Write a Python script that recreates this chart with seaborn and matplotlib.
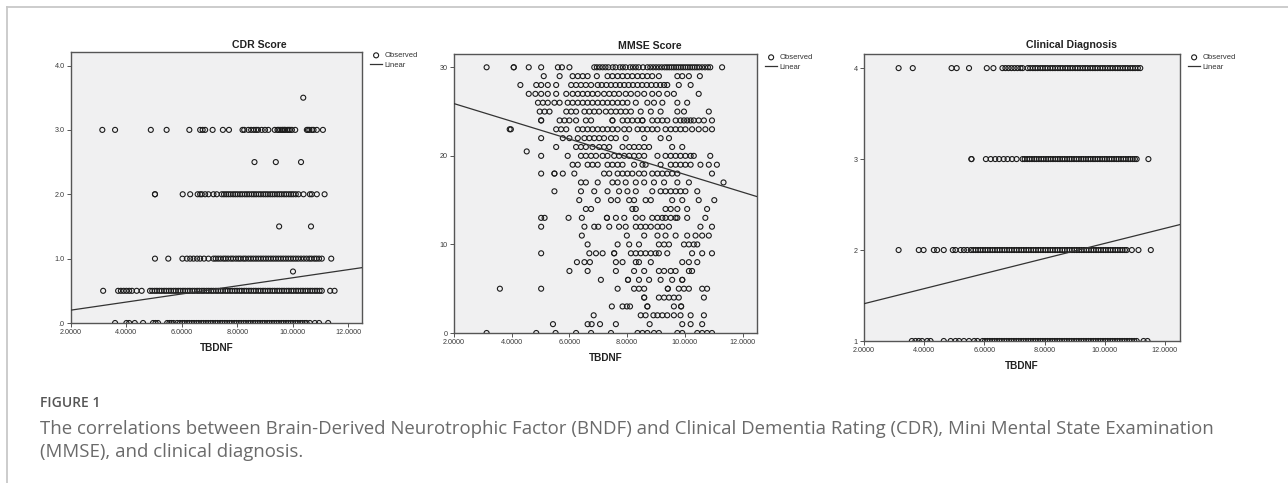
import matplotlib
matplotlib.use("Agg")
import matplotlib.pyplot as plt
from matplotlib.lines import Line2D
from matplotlib.ticker import FormatStrFormatter
import seaborn as sns
import pandas as pd

# ---------------- data ----------------
# CDR Score panel: TBDNF values observed at each CDR level
cdr_0_0 = [3.59, 4.0, 4.1, 4.3, 4.6, 4.96, 5.05, 5.14, 5.47, 5.55, 5.62, 5.7, 5.83,
           5.93, 6.02, 6.1, 6.19, 6.27, 6.36, 6.44, 6.53, 6.61, 6.7, 6.78, 6.87, 6.95,
           7.04, 7.12, 7.21, 7.29, 7.38, 7.46, 7.55, 7.63, 7.72, 7.8, 7.89, 7.97, 8.06,
           8.14, 8.23, 8.31, 8.4, 8.48, 8.57, 8.65, 8.74, 8.82, 8.91, 8.99, 9.08, 9.16,
           9.25, 9.33, 9.42, 9.5, 9.59, 9.67, 9.76, 9.84, 9.93, 10.01, 10.1, 10.18,
           10.27, 10.35, 10.44, 10.5, 10.62, 10.8, 10.95, 11.28]
cdr_0_5 = [3.16, 3.7, 3.8, 3.9, 4.0, 4.1, 4.2, 4.37, 4.55,
           4.85, 4.93, 5.02, 5.1, 5.19, 5.27, 5.36, 5.44, 5.53, 5.61, 5.7, 5.78, 5.87,
           5.95, 6.04, 6.12, 6.21, 6.29, 6.38, 6.46, 6.55, 6.63, 6.72, 6.8, 6.89, 6.97,
           7.06, 7.14, 7.23, 7.31, 7.4, 7.48, 7.57, 7.65, 7.74, 7.82, 7.91, 7.99, 8.08,
           8.16, 8.25, 8.33, 8.42, 8.5, 8.59, 8.67, 8.76, 8.84, 8.93, 9.01, 9.1, 9.18,
           9.27, 9.35, 9.44, 9.52, 9.61, 9.69, 9.78, 9.86, 9.95, 10.03, 10.12, 10.2,
           10.29, 10.37, 10.46, 10.54, 10.63, 10.71, 10.8, 10.88, 10.97, 11.05, 11.35, 11.51]
cdr_0_8 = [10.01]
cdr_1_0 = [5.03, 5.51, 6.02, 6.18, 6.3, 6.42, 6.55, 6.66, 6.8, 6.96,
           7.14, 7.22, 7.31, 7.4, 7.5, 7.58, 7.67, 7.77, 7.85, 7.95, 8.04, 8.12, 8.22,
           8.3, 8.4, 8.49, 8.58, 8.67, 8.76, 8.85, 8.94, 9.03, 9.12, 9.21, 9.3, 9.39,
           9.48, 9.57, 9.66, 9.75, 9.84, 9.93, 10.02, 10.11, 10.2, 10.3, 10.4, 10.5,
           10.6, 10.68, 10.78, 10.86, 10.95, 11.05, 11.39]
cdr_1_5 = [9.51, 10.66]
cdr_2_0 = [5.03, 5.03, 6.03, 6.30, 6.57, 6.66, 6.72, 6.84, 6.96, 7.14, 7.26,
           7.44, 7.52, 7.6, 7.68, 7.76, 7.85, 7.93, 8.01, 8.1, 8.18, 8.27, 8.35, 8.43,
           8.52, 8.6, 8.68, 8.77, 8.85, 8.94, 9.02, 9.1, 9.19, 9.27, 9.35, 9.44, 9.52,
           9.6, 9.69, 9.77, 9.86, 9.94, 10.02, 10.11, 10.21, 10.39, 10.62, 10.69, 10.87, 11.15]
cdr_2_5 = [8.62, 9.39, 10.30]
cdr_3_0 = [3.13, 3.59, 4.88, 5.45, 6.27, 6.66, 6.75, 6.84, 7.11, 7.48, 7.70, 8.19,
           8.25, 8.40, 8.5, 8.6, 8.68, 8.75, 8.88, 9.00, 9.12, 9.35, 9.45, 9.49, 9.55,
           9.61, 9.65, 9.7, 9.73, 9.8, 9.85, 9.9, 9.97, 10.09, 10.51, 10.55, 10.6,
           10.69, 10.75, 10.87, 11.09]
cdr_3_5 = [10.38]
cdr_levels = [0.0, 0.5, 0.8, 1.0, 1.5, 2.0, 2.5, 3.0, 3.5]
cdr_rows = [cdr_0_0, cdr_0_5, cdr_0_8, cdr_1_0, cdr_1_5, cdr_2_0, cdr_2_5, cdr_3_0, cdr_3_5]
cdr_linear_x = [2.0, 12.5]
cdr_linear_y = [0.20, 0.86]

# MMSE Score panel: TBDNF values observed at each MMSE score
mmse_30 = [3.13, 4.07, 4.07, 4.59, 5.02, 5.60, 5.74, 6.0, 6.86, 6.95, 7.05, 7.15, 7.25,
           7.35, 7.5, 7.6, 7.75, 7.85, 7.95, 8.1, 8.2, 8.3, 8.4, 8.55, 8.7, 8.8, 8.9,
           9.0, 9.1, 9.2, 9.3, 9.38, 9.46, 9.54, 9.62, 9.7, 9.78, 9.86, 9.94, 10.02,
           10.1, 10.18, 10.26, 10.34, 10.42, 10.5, 10.6, 10.7, 10.8, 10.88, 11.29]
mmse_29 = [5.11, 5.66, 6.11, 6.29, 6.46, 6.63, 6.95, 7.32, 7.49, 7.67, 7.84, 8.01, 8.18,
           8.36, 8.53, 8.70, 8.87, 9.1, 9.74, 9.91, 10.14, 10.52]
mmse_28 = [4.30, 4.85, 5.02, 5.25, 5.54, 6.06, 6.23, 6.40, 6.57, 6.75, 6.98, 7.12, 7.28,
           7.44, 7.6, 7.75, 7.9, 8.05, 8.2, 8.36, 8.52, 8.68, 8.84, 9.0, 9.15, 9.28,
           9.39, 9.79, 10.2]
mmse_27 = [4.59, 4.82, 5.02, 5.25, 5.54, 5.89, 6.11, 6.29, 6.46, 6.63, 6.8, 6.98, 7.2,
           7.38, 7.55, 7.72, 7.95, 8.13, 8.36, 8.59, 8.87, 9.1, 9.39, 9.62, 10.48]
mmse_26 = [4.91, 5.08, 5.25, 5.48, 5.66, 5.94, 6.11, 6.29, 6.46, 6.63, 6.8, 6.98, 7.15,
           7.32, 7.49, 7.67, 7.84, 8.01, 8.30, 8.70, 8.93, 9.22, 9.74, 10.08]
mmse_25 = [4.97, 5.14, 5.31, 5.89, 6.06, 6.23, 6.52, 6.69, 6.86, 7.03, 7.26, 7.44, 7.61,
           7.78, 7.95, 8.13, 8.47, 8.82, 9.16, 9.74, 9.97, 10.83]
mmse_24 = [5.02, 5.02, 5.66, 5.83, 6.0, 6.23, 6.57, 6.75, 7.49, 7.49, 7.84, 8.01, 8.18,
           8.36, 8.53, 8.53, 8.87, 9.05, 9.22, 9.39, 9.68, 9.85, 9.97, 10.08, 10.2,
           10.31, 10.48, 10.66, 10.94]
mmse_23 = [3.93, 3.97, 5.54, 5.71, 5.89, 6.29, 6.46, 6.63, 6.8, 6.98, 7.15, 7.32, 7.49,
           7.67, 7.9, 8.07, 8.36, 8.53, 8.70, 8.87, 9.05, 9.33, 9.51, 9.68, 9.85, 10.02,
           10.25, 10.48, 10.71, 10.94]
mmse_22 = [5.02, 5.77, 6.0, 6.29, 6.52, 6.69, 6.86, 7.03, 7.2, 7.44, 7.61, 7.95, 8.59,
           9.16, 9.45]
mmse_21 = [5.54, 6.23, 6.40, 6.57, 6.8, 7.03, 7.2, 7.38, 7.84, 8.07, 8.24, 8.41, 8.59,
           8.76, 9.56, 9.91]
mmse_20_5 = [4.52]
mmse_20 = [5.02, 5.94, 6.40, 6.57, 6.75, 6.92, 7.15, 7.32, 7.55, 7.72, 7.9, 8.07, 8.24,
           8.41, 8.59, 9.05, 9.33, 9.51, 9.68, 9.85, 10.02, 10.2, 10.31, 10.88]
mmse_19 = [6.11, 6.29, 6.63, 6.8, 6.98, 7.32, 7.49, 7.67, 7.84, 8.24, 8.53, 8.64, 9.16,
           9.51, 9.68, 9.85, 10.02, 10.2, 10.54, 10.83, 11.11]
mmse_18 = [5.02, 5.48, 5.48, 5.77, 6.17, 7.2, 7.38, 7.67, 7.84, 8.01, 8.18, 8.41, 8.59,
           8.87, 9.05, 9.22, 9.39, 9.56, 9.74, 10.94]
mmse_17 = [6.40, 6.57, 6.98, 7.49, 7.67, 7.95, 8.30, 8.59, 8.93, 9.28, 9.74, 10.14, 11.34]
mmse_16 = [5.48, 6.40, 6.86, 7.32, 7.72, 8.01, 8.30, 8.87, 9.16, 9.33, 9.51, 9.68, 9.85,
           10.02, 10.43]
mmse_15 = [6.34, 6.98, 7.44, 7.67, 8.07, 8.24, 8.64, 8.82, 9.56, 9.91, 10.48, 11.02]
mmse_14 = [6.57, 6.75, 8.18, 8.30, 9.33, 9.51, 9.74, 10.08, 10.77]
mmse_13 = [5.02, 5.14, 5.97, 6.43, 7.3, 7.3, 7.61, 7.9, 8.30, 8.53, 8.87, 9.05, 9.22,
           9.33, 9.51, 9.68, 9.74, 10.08, 10.71]
mmse_12 = [5.02, 6.52, 6.86, 7.0, 7.38, 7.72, 7.95, 8.30, 8.47, 8.64, 8.82, 9.05, 9.22,
           9.45, 10.54, 10.94]
mmse_11 = [6.43, 7.99, 8.59, 9.05, 9.33, 9.68, 10.08, 10.37, 10.6, 10.83]
mmse_10 = [6.63, 7.67, 8.07, 8.41, 9.1, 9.28, 9.45, 9.97, 10.14, 10.31, 10.43]
mmse_9 = [5.02, 6.69, 6.92, 7.15, 7.55, 7.55, 8.13, 8.30, 8.47, 8.64, 8.82, 8.99, 9.1,
          9.39, 10.25, 10.6, 10.94]
mmse_8 = [6.26, 6.52, 6.71, 7.61, 7.84, 8.30, 8.41, 8.82, 9.91, 10.14, 10.43]
mmse_7 = [6.0, 6.63, 7.61, 8.24, 8.59, 9.1, 9.28, 9.51, 9.68, 10.14, 10.25]
mmse_6 = [7.09, 8.03, 8.03, 8.41, 8.76, 9.16, 9.56, 9.91, 9.91]
mmse_5 = [3.59, 5.02, 7.67, 8.24, 8.41, 8.59, 9.41, 9.41, 9.79, 9.97, 10.14, 10.6, 10.77]
mmse_4 = [8.59, 8.59, 9.1, 9.28, 9.45, 9.62, 9.79, 10.66]
mmse_3 = [7.47, 7.84, 7.99, 8.10, 8.70, 8.70, 9.62, 9.87, 9.87]
mmse_2 = [6.84, 8.47, 8.64, 8.91, 9.05, 9.22, 9.39, 9.62, 9.85, 10.2, 10.66]
mmse_1 = [5.43, 6.63, 6.77, 7.06, 7.61, 8.78, 9.91, 10.2, 10.6]
mmse_0 = [3.13, 4.85, 5.52, 6.23, 6.75, 7.44, 8.36, 8.53, 8.70, 8.93, 9.1, 9.74, 9.91,
          10.43, 10.6, 10.77, 10.94]
mmse_levels = [30, 29, 28, 27, 26, 25, 24, 23, 22, 21, 20.5, 20, 19, 18, 17, 16, 15, 14,
               13, 12, 11, 10, 9, 8, 7, 6, 5, 4, 3, 2, 1, 0]
mmse_rows = [mmse_30, mmse_29, mmse_28, mmse_27, mmse_26, mmse_25, mmse_24, mmse_23,
             mmse_22, mmse_21, mmse_20_5, mmse_20, mmse_19, mmse_18, mmse_17, mmse_16,
             mmse_15, mmse_14, mmse_13, mmse_12, mmse_11, mmse_10, mmse_9, mmse_8,
             mmse_7, mmse_6, mmse_5, mmse_4, mmse_3, mmse_2, mmse_1, mmse_0]
mmse_linear_x = [2.0, 12.5]
mmse_linear_y = [25.9, 15.4]

# Clinical Diagnosis panel
dx_4 = [3.15, 3.62, 4.91, 5.08, 5.49, 6.08, 6.3, 6.6, 6.7, 6.8, 6.9, 7.0, 7.1, 7.2, 7.27,
        7.44, 7.52, 7.61, 7.69, 7.77, 7.86, 7.94, 8.02, 8.1, 8.19, 8.27, 8.35, 8.44,
        8.52, 8.6, 8.69, 8.77, 8.85, 8.93, 9.02, 9.1, 9.18, 9.27, 9.35, 9.43, 9.52, 9.6,
        9.68, 9.76, 9.85, 9.93, 10.01, 10.1, 10.18, 10.26, 10.35, 10.43, 10.51, 10.6,
        10.68, 10.76, 10.85, 10.93, 11.01, 11.1, 11.18]
dx_3 = [5.57, 5.57, 6.05, 6.21, 6.36, 6.49, 6.64, 6.77, 6.92, 7.07,
        7.27, 7.34, 7.42, 7.5, 7.58, 7.66, 7.73, 7.81, 7.89, 7.97, 8.05, 8.12, 8.2, 8.28,
        8.36, 8.44, 8.51, 8.59, 8.67, 8.75, 8.83, 8.9, 8.98, 9.06, 9.14, 9.22, 9.29,
        9.37, 9.45, 9.53, 9.61, 9.68, 9.76, 9.84, 9.92, 10.0, 10.07, 10.15, 10.23, 10.31,
        10.39, 10.46, 10.54, 10.62, 10.7, 10.78, 10.85, 10.93, 11.0, 11.06, 11.45]
dx_2 = [3.15, 3.82, 3.98, 4.32, 4.43, 4.65, 4.95, 5.04, 5.21, 5.32, 5.43,
        5.55, 5.63, 5.71, 5.79, 5.87, 5.95, 6.03, 6.11, 6.19, 6.27, 6.35, 6.43, 6.51,
        6.59, 6.67, 6.75, 6.83, 6.91, 6.99, 7.07, 7.15, 7.23, 7.31, 7.39, 7.47, 7.55,
        7.63, 7.71, 7.79, 7.87, 7.95, 8.03, 8.11, 8.19, 8.27, 8.35, 8.43, 8.51, 8.59,
        8.67, 8.75, 8.83, 8.91, 8.99, 9.07, 9.15, 9.23, 9.31, 9.39, 9.47, 9.55, 9.63,
        9.71, 9.79, 9.87, 9.95, 10.03, 10.11, 10.19, 10.27, 10.35, 10.43, 10.51, 10.59,
        10.67, 10.73, 10.9, 11.12, 11.53]
dx_1 = [3.59, 3.71, 3.82, 3.93, 4.1, 4.21, 4.65, 4.88, 5.04, 5.16, 5.32, 5.49, 5.66, 5.77,
        5.94, 6.02, 6.1, 6.18, 6.26, 6.34, 6.42, 6.5, 6.58, 6.66, 6.74, 6.82, 6.9, 6.98,
        7.06, 7.14, 7.22, 7.3, 7.38, 7.46, 7.54, 7.62, 7.7, 7.78, 7.86, 7.94, 8.02, 8.1,
        8.18, 8.26, 8.34, 8.42, 8.5, 8.58, 8.66, 8.74, 8.82, 8.9, 8.98, 9.06, 9.14, 9.22,
        9.3, 9.38, 9.46, 9.54, 9.62, 9.7, 9.78, 9.86, 9.94, 10.02, 10.1, 10.18, 10.26,
        10.34, 10.42, 10.5, 10.58, 10.66, 10.74, 10.82, 10.9, 10.98, 11.06, 11.29, 11.42]
dx_levels = [4, 3, 2, 1]
dx_rows = [dx_4, dx_3, dx_2, dx_1]
dx_linear_x = [2.0, 12.5]
dx_linear_y = [1.41, 2.28]

titles = ["CDR Score", "MMSE Score", "Clinical Diagnosis"]
x_label = "TBDNF"
x_ticks = [2, 4, 6, 8, 10, 12]
cdr_yticks = [0, 1, 2, 3, 4]
cdr_yticklabels = [".0", "1.0", "2.0", "3.0", "4.0"]
mmse_yticks = [0, 10, 20, 30]
dx_yticks = [1, 2, 3, 4]
legend_labels = ["Observed", "Linear"]
caption_head = "FIGURE 1"
caption_lines = ["The correlations between Brain-Derived Neurotrophic Factor (BNDF) and Clinical Dementia Rating (CDR), Mini Mental State Examination",
                 "(MMSE), and clinical diagnosis."]


def to_frame(levels, rows):
    xs, ys = [], []
    for lv, row in zip(levels, rows):
        xs.extend(row)
        ys.extend([lv] * len(row))
    return pd.DataFrame({"x": xs, "y": ys})


# ---------------- figure ----------------
W, H = 1288, 483
fig = plt.figure(figsize=(W / 100, H / 100), dpi=100)
fig.patch.set_facecolor("white")

# (left, top, right, bottom) in pixels
boxes = [(71, 52, 362, 323), (454, 54, 757, 333), (864, 54, 1180, 341)]
ylims = [(0, 4.21), (0, 31.5), (1, 4.155)]
title_pos = [(259, 45), (650, 46), (1071, 45)]
panels = [(cdr_levels, cdr_rows, cdr_linear_x, cdr_linear_y),
          (mmse_levels, mmse_rows, mmse_linear_x, mmse_linear_y),
          (dx_levels, dx_rows, dx_linear_x, dx_linear_y)]

spine_c = "#555555"
tick_c = "#3a3a3a"
afont = "Liberation Sans"

for i, (box, (lv, rows, lx, ly)) in enumerate(zip(boxes, panels)):
    l, t, r, b = box
    ax = fig.add_axes([l / W, 1 - b / H, (r - l) / W, (b - t) / H])
    ax.set_facecolor("#f0f0f1")
    df = to_frame(lv, rows)
    sns.scatterplot(data=df, x="x", y="y", ax=ax, marker="o", s=13,
                    facecolors="none", edgecolor="#1c1c1c", linewidth=0.8,
                    label=legend_labels[0], zorder=3)
    sns.lineplot(x=lx, y=ly, ax=ax, color="#333333", linewidth=0.9,
                 label=legend_labels[1], zorder=4)
    ax.set_xlim(2, 12.5)
    ax.set_ylim(*ylims[i])
    ax.set_xticks(x_ticks)
    ax.xaxis.set_major_formatter(FormatStrFormatter("%.4f"))
    if i == 0:
        ax.set_yticks(cdr_yticks)
        ax.set_yticklabels(cdr_yticklabels)
    elif i == 1:
        ax.set_yticks(mmse_yticks)
    else:
        ax.set_yticks(dx_yticks)
    ax.tick_params(axis="both", direction="out", length=3, width=0.6, color=tick_c,
                   labelsize=5.2, labelcolor=tick_c, pad=1.5)
    for lab in ax.get_xticklabels() + ax.get_yticklabels():
        lab.set_family(afont)
    for s in ax.spines.values():
        s.set_color(spine_c)
        s.set_linewidth(1.0)
    ax.set_ylabel("")
    ax.set_xlabel(x_label, fontsize=7.2, fontweight="bold", family=afont,
                  color="#222222", labelpad=5)
    ax.grid(False)
    # legend to the right of the axes
    leg = ax.legend(loc="upper left", bbox_to_anchor=(1 + 8 / (r - l), 1.0),
                    frameon=False, handlelength=1.6, handletextpad=0.3,
                    labelspacing=0.25, borderaxespad=0, borderpad=0,
                    prop={"family": afont, "size": 5.5})
    for txt in leg.get_texts():
        txt.set_color("#333333")
    tx, ty = title_pos[i]
    fig.text(tx / W, 1 - ty / H, titles[i], ha="center", va="center", fontsize=7.6,
             fontweight="bold", family=afont, color="#222222")

# outer frame lines
fig.add_artist(Line2D([7 / W, 1.0], [1 - 7 / H, 1 - 7 / H], transform=fig.transFigure,
                      color="#c8c8c8", linewidth=1.3))
fig.add_artist(Line2D([7 / W, 7 / W], [0.0, 1 - 7 / H], transform=fig.transFigure,
                      color="#c8c8c8", linewidth=1.3))

# caption
fig.text(40 / W, 1 - 403 / H, caption_head, ha="left", va="center", fontsize=10,
         fontweight="semibold", family="Open Sans", color="#555555")
fig.text(40 / W, 1 - 429 / H, caption_lines[0], ha="left", va="center", fontsize=13.4,
         family="Open Sans", color="#6a6a6a")
fig.text(40 / W, 1 - 452 / H, caption_lines[1], ha="left", va="center", fontsize=13.4,
         family="Open Sans", color="#6a6a6a")

fig.savefig("out.png", dpi=100)
